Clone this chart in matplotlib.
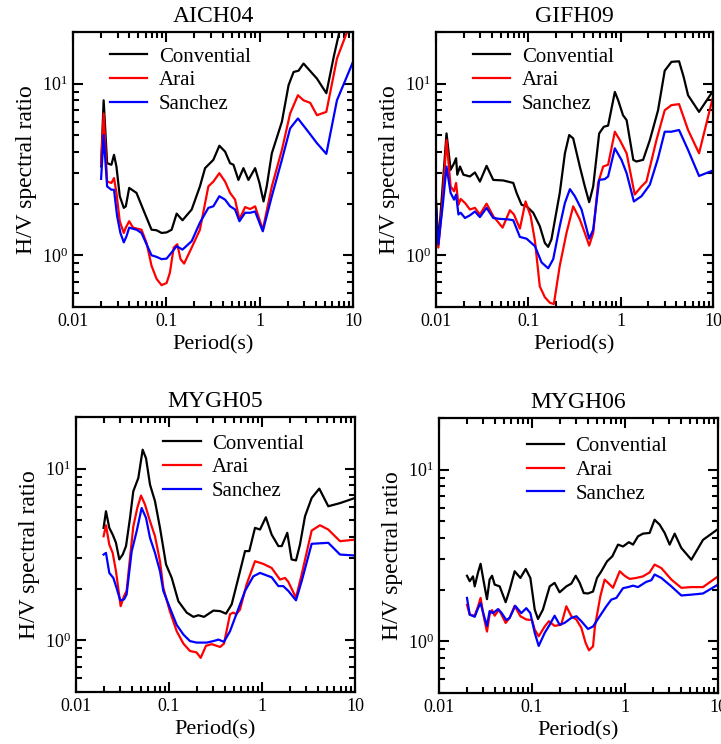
import numpy as np
import matplotlib
matplotlib.use("Agg")
import matplotlib.pyplot as plt
from matplotlib.ticker import FixedLocator, FixedFormatter, LogLocator, NullFormatter

plt.rcParams['font.family'] = ['Liberation Serif', 'DejaVu Serif']
plt.rcParams['mathtext.fontset'] = 'custom'
plt.rcParams['mathtext.rm'] = 'Liberation Serif'
plt.rcParams['mathtext.it'] = 'Liberation Serif:italic'

series_names = ["Convential", "Arai", "Sanchez"]
series_colors = ["#000000", "#ff0000", "#0000ff"]
x_tick_values = [0.01, 0.1, 1, 10]
x_tick_labels = ["0.01", "0.1", "1", "10"]
y_tick_values = [1, 10]
y_tick_labels = [r"$10^0$", r"$10^1$"]

# ---------------- AICH04 ----------------
aich04_conv_T = [0.020, 0.0213, 0.0232, 0.0258, 0.0275, 0.0292, 0.0317, 0.035, 0.0368, 0.040, 0.0479, 0.0565,
                 0.0694, 0.0785, 0.0889, 0.1007, 0.114, 0.129, 0.149, 0.187, 0.229, 0.26, 0.319, 0.370, 0.426,
                 0.482, 0.524, 0.592, 0.67, 0.758, 0.894, 0.995, 1.10, 1.19, 1.35, 1.73, 2.04, 2.31, 2.61, 2.95,
                 4.11, 5.18, 6.21, 7.2, 10.0]
aich04_conv_V = [3.3, 8.0, 3.44, 3.37, 3.85, 3.29, 2.21, 1.89, 1.93, 2.47, 2.31, 1.85,
                 1.41, 1.40, 1.35, 1.36, 1.41, 1.75, 1.60, 1.85, 2.52, 3.22, 3.6, 4.35, 4.02,
                 3.44, 3.37, 2.75, 3.22, 2.75, 3.22, 2.64, 2.06, 2.52, 3.93, 6.0, 9.8, 11.7, 11.9, 13.1,
                 10.7, 8.8, 14.3, 20.4, 40.0]
aich04_arai_T = [0.020, 0.0213, 0.0232, 0.0258, 0.0275, 0.0292, 0.0317, 0.035, 0.0368, 0.040, 0.044, 0.0542,
                 0.0614, 0.0694, 0.0785, 0.0889, 0.1007, 0.109, 0.12, 0.131, 0.142, 0.155, 0.187, 0.229, 0.282,
                 0.319, 0.370, 0.426, 0.482, 0.545, 0.607, 0.698, 0.791, 0.894, 1.08, 1.35, 1.73, 2.12, 2.57,
                 2.95, 3.48, 4.11, 5.18, 6.73, 8.63, 10.0]
aich04_arai_V = [3.37, 6.7, 2.69, 2.64, 2.82, 2.31, 1.58, 1.35, 1.45, 1.58, 1.45, 1.41,
                 1.18, 0.87, 0.73, 0.67, 0.69, 0.79, 1.11, 1.16, 0.95, 0.895, 1.11, 1.41, 2.52,
                 2.69, 3.01, 2.69, 2.31, 2.11, 1.62, 1.91, 1.86, 1.93, 1.41, 2.52, 4.11, 6.7, 8.56,
                 8.0, 7.73, 6.55, 6.85, 14.0, 20.0, 25.0]
aich04_sanc_T = [0.020, 0.0213, 0.0232, 0.0258, 0.0275, 0.0297, 0.0322, 0.035, 0.0374, 0.040, 0.0479, 0.0542,
                 0.0614, 0.0694, 0.0785, 0.0889, 0.1007, 0.114, 0.129, 0.149, 0.187, 0.229, 0.282, 0.319,
                 0.370, 0.426, 0.482, 0.545, 0.607, 0.698, 0.791, 0.894, 1.08, 1.35, 1.73, 2.12, 2.57, 3.21,
                 4.11, 5.18, 6.73, 10.0]
aich04_sanc_V = [2.79, 5.02, 2.52, 2.41, 2.41, 1.69, 1.35, 1.19, 1.29, 1.45, 1.41, 1.35,
                 1.16, 1.0, 0.98, 0.95, 0.957, 1.04, 1.13, 1.08, 1.21, 1.55, 1.89, 1.93,
                 2.21, 2.11, 1.93, 1.85, 1.58, 1.77, 1.77, 1.8, 1.38, 2.21, 3.6, 5.49, 6.27, 5.37,
                 4.5, 3.9, 8.0, 13.4]

# ---------------- GIFH09 ----------------
gifh09_conv_T = [0.01, 0.0106, 0.0118, 0.013, 0.0144, 0.0157, 0.0165, 0.017, 0.0182, 0.0198, 0.0233, 0.0264,
                 0.0299, 0.0353, 0.0417, 0.0535, 0.0687, 0.0746, 0.0845, 0.0958, 0.113, 0.133, 0.151, 0.164,
                 0.178, 0.219, 0.249, 0.277, 0.306, 0.361, 0.409, 0.456, 0.504, 0.585, 0.657, 0.731, 0.865,
                 0.94, 1.06, 1.16, 1.37, 1.48, 1.75, 2.07, 2.54, 3.0, 3.55, 4.29, 4.82, 5.37, 7.06, 10.0]
gifh09_conv_V = [2.11, 1.16, 2.52, 5.13, 3.15, 3.44, 3.68, 2.95, 3.29, 2.95, 2.88, 3.04,
                 2.69, 3.32, 2.75, 2.73, 2.64, 2.31, 1.97, 1.93, 1.77, 1.48, 1.18, 1.12,
                 1.24, 2.31, 3.93, 5.02, 4.8, 3.29, 2.52, 2.04, 2.52, 5.13, 5.61, 5.7, 8.95,
                 8.0, 6.55, 6.13, 3.6, 3.52, 3.6, 4.69, 7.0, 11.9, 13.4, 13.5, 10.9, 8.56, 6.85, 9.07]
gifh09_arai_T = [0.01, 0.0106, 0.0118, 0.013, 0.0144, 0.0157, 0.0165, 0.0175, 0.0185, 0.0206, 0.0233, 0.0264,
                 0.0299, 0.0353, 0.0417, 0.0526, 0.0632, 0.0698, 0.081, 0.0933, 0.106, 0.118, 0.133, 0.151,
                 0.171, 0.189, 0.219, 0.259, 0.306, 0.361, 0.409, 0.456, 0.504, 0.57, 0.646, 0.731, 0.865,
                 0.98, 1.16, 1.42, 1.68, 1.9, 2.44, 3.0, 3.55, 4.29, 5.37, 7.06, 10.0]
gifh09_arai_V = [1.69, 1.11, 2.11, 4.7, 2.52, 2.36, 2.64, 1.97, 2.13, 2.02, 1.85, 1.89,
                 1.73, 2.0, 1.69, 1.45, 1.83, 1.73, 1.43, 2.06, 1.69, 1.21, 0.66, 0.57,
                 0.53, 0.52, 0.87, 1.35, 1.93, 1.62, 1.35, 1.14, 1.35, 2.64, 3.29, 3.37, 5.25,
                 4.69, 3.93, 2.26, 2.52, 2.69, 4.69, 7.0, 7.5, 7.6, 5.37, 3.93, 8.37]
gifh09_sanc_T = [0.01, 0.0106, 0.0118, 0.013, 0.0144, 0.0157, 0.0165, 0.0175, 0.0185, 0.0206, 0.0233, 0.0264,
                 0.0299, 0.0353, 0.0417, 0.0492, 0.0606, 0.0687, 0.081, 0.0958, 0.118, 0.139, 0.164, 0.186,
                 0.219, 0.249, 0.282, 0.319, 0.377, 0.456, 0.504, 0.585, 0.673, 0.731, 0.865, 1.02, 1.16,
                 1.39, 1.68, 2.07, 2.54, 3.0, 3.55, 4.29, 5.37, 7.06, 10.0]
gifh09_sanc_V = [1.93, 1.16, 1.93, 3.29, 2.31, 2.11, 2.26, 1.73, 1.77, 1.65, 1.71, 1.8,
                 1.67, 1.89, 1.65, 1.63, 1.62, 1.6, 1.28, 1.25, 1.13, 0.91, 0.84, 0.95,
                 1.48, 2.02, 2.43, 2.21, 1.85, 1.25, 1.41, 2.75, 2.78, 2.88, 4.2, 3.6, 3.01,
                 2.06, 2.21, 2.58, 3.68, 5.25, 5.25, 5.37, 4.11, 2.9, 3.12]

# ---------------- MYGH05 ----------------
mygh05_conv_T = [0.0198, 0.021, 0.0228, 0.0248, 0.0269, 0.0292, 0.0318, 0.0345, 0.0381, 0.0413, 0.0468, 0.0521,
                 0.0566, 0.0625, 0.0707, 0.08, 0.0929, 0.107, 0.126, 0.155, 0.183, 0.207, 0.238, 0.3, 0.354,
                 0.41, 0.472, 0.557, 0.657, 0.73, 0.841, 0.952, 1.10, 1.27, 1.50, 1.63, 1.87, 2.08, 2.32,
                 2.56, 2.90, 3.42, 4.13, 5.16, 6.9, 10.0]
mygh05_conv_V = [4.52, 5.65, 4.52, 4.13, 3.7, 2.96, 3.16, 3.54, 5.17, 7.38, 8.83, 12.9,
                 11.5, 8.07, 6.46, 4.52, 2.77, 2.31, 1.69, 1.45, 1.37, 1.40, 1.37, 1.49, 1.48,
                 1.43, 1.62, 2.31, 3.31, 3.31, 4.52, 4.42, 5.21, 4.13, 3.54, 3.54, 4.23, 2.96, 2.92,
                 3.61, 5.28, 6.75, 7.65, 6.04, 6.3, 6.75]
mygh05_arai_T = [0.0198, 0.021, 0.0228, 0.0248, 0.0269, 0.0302, 0.0328, 0.035, 0.0381, 0.0413, 0.0456, 0.05,
                 0.0552, 0.0625, 0.0707, 0.08, 0.0869, 0.102, 0.121, 0.143, 0.168, 0.198, 0.219, 0.25, 0.288,
                 0.354, 0.39, 0.453, 0.49, 0.53, 0.58, 0.683, 0.841, 1.03, 1.27, 1.56, 1.77, 1.92, 2.32,
                 2.67, 3.42, 4.2, 5.16, 6.9, 10.0]
mygh05_arai_V = [4.04, 4.68, 3.61, 3.23, 2.53, 1.58, 1.81, 1.94, 3.03, 4.6, 5.9, 6.97,
                 6.18, 4.94, 4.04, 2.89, 2.02, 1.48, 1.13, 0.956, 0.867, 0.85, 0.79, 0.93, 0.95,
                 0.915, 0.956, 1.42, 1.45, 1.42, 1.51, 2.12, 2.89, 2.79, 2.64, 2.26, 2.31, 2.19, 1.77,
                 2.42, 4.36, 4.68, 4.42, 3.78, 3.86]
mygh05_sanc_T = [0.0198, 0.021, 0.0228, 0.0252, 0.0273, 0.0299, 0.0328, 0.035, 0.0397, 0.0449, 0.0508, 0.0566,
                 0.0625, 0.0707, 0.08, 0.0869, 0.102, 0.121, 0.143, 0.168, 0.198, 0.254, 0.3, 0.34, 0.39,
                 0.453, 0.53, 0.657, 0.807, 0.952, 1.12, 1.27, 1.5, 1.69, 1.92, 2.32, 2.67, 3.42, 5.16,
                 6.9, 10.0]
mygh05_sanc_V = [3.16, 3.23, 2.47, 2.31, 2.02, 1.71, 1.73, 1.85, 3.3, 4.32, 5.9, 5.17,
                 3.95, 3.23, 2.53, 1.94, 1.55, 1.23, 1.08, 0.99, 0.97, 0.97, 0.99, 1.01, 0.98,
                 1.13, 1.42, 1.94, 2.36, 2.47, 2.39, 2.33, 2.07, 2.07, 1.94, 1.71, 2.21, 3.65, 3.7,
                 3.16, 3.12]

# ---------------- MYGH06 ----------------
mygh06_conv_T = [0.02, 0.0214, 0.0232, 0.0242, 0.0263, 0.028, 0.0302, 0.0328, 0.035, 0.0372, 0.0397, 0.0449,
                 0.0521, 0.0575, 0.0651, 0.075, 0.0856, 0.096, 0.107, 0.116, 0.131, 0.155, 0.175, 0.198,
                 0.234, 0.265, 0.295, 0.326, 0.36, 0.4, 0.453, 0.5, 0.557, 0.64, 0.731, 0.841, 0.952, 1.10,
                 1.22, 1.38, 1.56, 1.84, 2.08, 2.36, 2.67, 3.02, 3.42, 4.03, 5.17, 6.9, 10.0]
mygh06_conv_V = [2.41, 2.24, 2.39, 2.09, 2.52, 2.83, 2.24, 1.76, 2.29, 2.41, 2.14, 2.09,
                 1.69, 2.0, 2.56, 2.34, 2.64, 2.34, 1.53, 1.35, 1.53, 2.09, 2.19, 1.93,
                 2.09, 2.17, 2.41, 2.19, 1.91, 1.9, 1.95, 2.34, 2.56, 2.92, 3.13, 3.66, 3.57, 3.78,
                 3.66, 4.09, 4.24, 4.28, 5.11, 4.78, 4.28, 3.66, 4.24, 3.5, 2.99, 3.9, 4.51]
mygh06_arai_T = [0.02, 0.0214, 0.0242, 0.0263, 0.028, 0.0302, 0.0328, 0.035, 0.0372, 0.0397, 0.0441, 0.0521,
                 0.0575, 0.0651, 0.075, 0.0869, 0.1, 0.107, 0.118, 0.137, 0.152, 0.175, 0.206, 0.234, 0.265,
                 0.3, 0.339, 0.377, 0.41, 0.453, 0.475, 0.543, 0.604, 0.67, 0.743, 0.877, 0.99, 1.12, 1.32,
                 1.56, 1.84, 2.08, 2.46, 3.15, 4.03, 5.17, 6.9, 10.0]
mygh06_arai_V = [1.63, 1.43, 1.41, 1.6, 1.79, 1.4, 1.14, 1.43, 1.52, 1.41, 1.53, 1.28,
                 1.37, 1.61, 1.4, 1.34, 1.33, 1.17, 1.07, 1.22, 1.31, 1.23, 1.25, 1.6, 1.4,
                 1.34, 1.2, 0.98, 0.886, 0.935, 1.22, 1.83, 2.29, 2.17, 2.05, 2.56, 2.41, 2.31, 2.34,
                 2.39, 2.52, 2.8, 2.67, 2.29, 2.05, 2.07, 2.07, 2.39]
mygh06_sanc_T = [0.02, 0.0214, 0.0242, 0.0263, 0.028, 0.0302, 0.0328, 0.035, 0.0381, 0.0431, 0.0468, 0.053,
                 0.0575, 0.066, 0.0767, 0.0869, 0.096, 0.107, 0.118, 0.137, 0.155, 0.175, 0.198, 0.224,
                 0.265, 0.3, 0.339, 0.4, 0.453, 0.535, 0.63, 0.713, 0.807, 0.952, 1.08, 1.22, 1.38, 1.69,
                 1.92, 2.08, 2.46, 3.15, 4.03, 5.17, 6.9, 10.0]
mygh06_sanc_V = [1.79, 1.43, 1.39, 1.56, 1.67, 1.43, 1.23, 1.5, 1.46, 1.54, 1.47, 1.33,
                 1.37, 1.61, 1.46, 1.56, 1.46, 1.12, 0.94, 1.12, 1.25, 1.41, 1.25, 1.28,
                 1.37, 1.4, 1.31, 1.18, 1.22, 1.4, 1.6, 1.75, 1.79, 2.04, 2.07, 2.11, 2.07, 2.22,
                 2.27, 2.45, 2.34, 2.09, 1.85, 1.87, 1.9, 2.14]

panels = [
    ("AICH04", [(aich04_conv_T, aich04_conv_V), (aich04_arai_T, aich04_arai_V), (aich04_sanc_T, aich04_sanc_V)]),
    ("GIFH09", [(gifh09_conv_T, gifh09_conv_V), (gifh09_arai_T, gifh09_arai_V), (gifh09_sanc_T, gifh09_sanc_V)]),
    ("MYGH05", [(mygh05_conv_T, mygh05_conv_V), (mygh05_arai_T, mygh05_arai_V), (mygh05_sanc_T, mygh05_sanc_V)]),
    ("MYGH06", [(mygh06_conv_T, mygh06_conv_V), (mygh06_arai_T, mygh06_arai_V), (mygh06_sanc_T, mygh06_sanc_V)]),
]

W, H = 721, 744
fig = plt.figure(figsize=(W / 100, H / 100), dpi=100)
# axes boxes in pixels: left, right, top, bottom
boxes = [(73, 353, 32, 307), (436, 713, 32, 307), (76, 355, 417, 692), (439, 718, 418, 693)]
legend_anchor = [(0.132, 0.945), (0.1325, 0.945), (0.312, 0.938), (0.314, 0.932)]

for (title, data), (l, r, t, b), anc in zip(panels, boxes, legend_anchor):
    ax = fig.add_axes([l / W, 1 - b / H, (r - l) / W, (b - t) / H])
    for (T, V), name, col in zip(data, series_names, series_colors):
        ax.plot(T, V, color=col, lw=1.6, label=name)
    ax.set_xscale('log')
    ax.set_yscale('log')
    ax.set_xlim(0.01, 10)
    ax.set_ylim(0.5, 20)
    ax.xaxis.set_major_locator(FixedLocator(x_tick_values))
    ax.xaxis.set_major_formatter(FixedFormatter(x_tick_labels))
    ax.xaxis.set_minor_locator(LogLocator(base=10, subs=np.arange(2, 10)))
    ax.xaxis.set_minor_formatter(NullFormatter())
    ax.yaxis.set_major_locator(FixedLocator(y_tick_values))
    ax.yaxis.set_major_formatter(FixedFormatter(y_tick_labels))
    ax.yaxis.set_minor_locator(LogLocator(base=10, subs=np.arange(2, 10)))
    ax.yaxis.set_minor_formatter(NullFormatter())
    ax.tick_params(which='both', direction='in', top=True, right=True, width=1.5, labelsize=13)
    ax.tick_params(which='major', length=7)
    ax.tick_params(which='minor', length=4)
    ax.tick_params(axis='x', which='major', pad=4)
    for s in ax.spines.values():
        s.set_linewidth(1.6)
    ax.set_title(title, fontsize=17, pad=7)
    ax.set_xlabel("Period(s)", fontsize=16, labelpad=4)
    ax.set_ylabel("H/V spectral ratio", fontsize=17, labelpad=4)
    ax.legend(loc='upper left', bbox_to_anchor=anc, frameon=False, fontsize=15,
              handlelength=1.8, handletextpad=0.55, labelspacing=0.2, borderpad=0, borderaxespad=0)

fig.savefig("out.png", dpi=100)
